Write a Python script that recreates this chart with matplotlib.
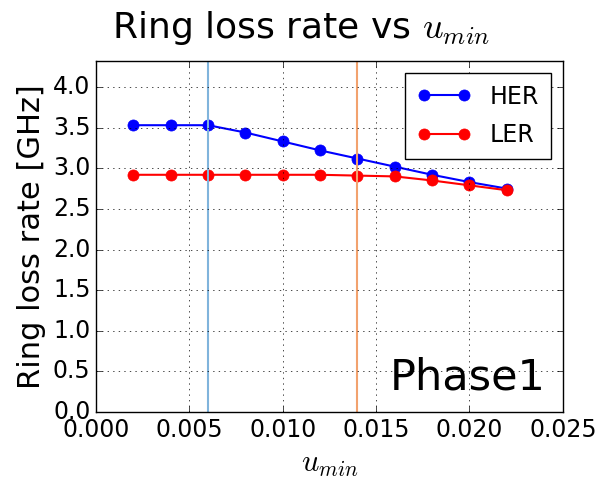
import numpy as np
import matplotlib
matplotlib.use("Agg")
import matplotlib.pyplot as plt

plt.style.use("classic")
plt.rcParams["mathtext.fontset"] = "cm"

u_min = np.array([0.002, 0.004, 0.006, 0.008, 0.010, 0.012, 0.014, 0.016, 0.018, 0.020, 0.022])
her_rate = np.array([3.53, 3.53, 3.53, 3.44, 3.33, 3.22, 3.12, 3.02, 2.92, 2.83, 2.75])
ler_rate = np.array([2.92, 2.92, 2.92, 2.92, 2.92, 2.92, 2.91, 2.90, 2.85, 2.79, 2.73])
cut_lines = [0.006, 0.014]
cut_colors = ["#80b4dc", "#f2a26e"]

fig = plt.figure(figsize=(6.02, 4.86), dpi=100, facecolor="white")
ax = fig.add_axes([0.1595, 0.152, 0.7755, 0.7225])

ax.plot(u_min, her_rate, "o-", color="blue", mec="blue", ms=8, lw=1.5, label="HER")
ax.plot(u_min, ler_rate, "o-", color="red", mec="red", ms=8, lw=1.5, label="LER")
for xc, col in zip(cut_lines, cut_colors):
    ax.axvline(xc, color=col, lw=1.5)

ax.set_xlim(0, 0.025)
ax.set_ylim(0, 4.32)
ax.set_xticks(np.arange(0, 0.0251, 0.005))
ax.set_yticks(np.arange(0, 4.01, 0.5))
ax.tick_params(labelsize=17)
ax.grid(True)

fig.suptitle(r"Ring loss rate vs $u_{min}$", fontsize=26, y=0.942, va="center")
ax.set_xlabel(r"$u_{min}$", fontsize=22, labelpad=6)
ax.set_ylabel("Ring loss rate [GHz]", fontsize=22)
ax.text(0.963, 0.04, "Phase1", transform=ax.transAxes, ha="right", va="bottom", fontsize=31)
ax.legend(loc="upper right", fontsize=17, numpoints=2, handlelength=2.3, labelspacing=0.6,
          borderpad=0.5)

fig.savefig("out.png", dpi=100, facecolor="white")
